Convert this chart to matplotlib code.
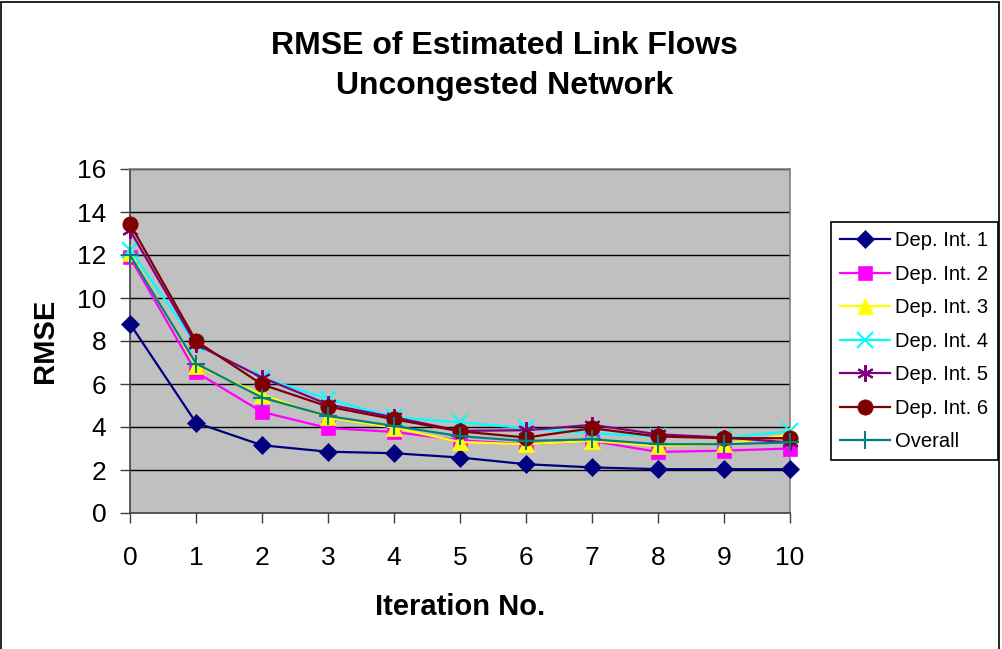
import numpy as np
import matplotlib.pyplot as plt
from matplotlib.patches import Rectangle

## Data
iterations = [0, 1, 2, 3, 4, 5, 6, 7, 8, 9, 10]
dep1 = [8.8, 4.2, 3.15, 2.85, 2.78, 2.58, 2.27, 2.12, 2.04, 2.04, 2.04]
dep2 = [11.9, 6.55, 4.7, 3.95, 3.77, 3.38, 3.2, 3.35, 2.84, 2.9, 3.0]
dep3 = [12.1, 6.85, 5.5, 4.45, 3.97, 3.3, 3.2, 3.35, 3.12, 3.2, 3.65]
dep4 = [12.25, 7.85, 6.3, 5.3, 4.45, 4.22, 3.94, 3.71, 3.56, 3.5, 3.8]
dep5 = [13.15, 7.85, 6.3, 5.05, 4.45, 3.82, 3.85, 4.1, 3.66, 3.51, 3.28]
dep6 = [13.45, 8.0, 5.98, 4.95, 4.36, 3.8, 3.51, 3.94, 3.56, 3.48, 3.48]
overall = [12.0, 6.95, 5.37, 4.51, 4.05, 3.57, 3.35, 3.43, 3.2, 3.2, 3.28]

series = [dep1, dep2, dep3, dep4, dep5, dep6, overall]
labels = ['Dep. Int. 1', 'Dep. Int. 2', 'Dep. Int. 3', 'Dep. Int. 4',
          'Dep. Int. 5', 'Dep. Int. 6', 'Overall']
colors = ['#000080', '#FF00FF', '#FFFF00', '#00FFFF', '#800080', '#800000', '#008080']
markers = ['D', 's', '^', 'x', (6, 2, 0), 'o', '+']
msizes = [9, 10, 11, 11, 12, 11, 13]

plt.rcParams['font.family'] = ['Liberation Sans', 'DejaVu Sans']

fig = plt.figure(figsize=(10.03, 6.49), dpi=100)
ax = fig.add_axes([130 / 1003, 1 - 513 / 649, 660 / 1003, 344 / 649])
ax.set_facecolor('#C0C0C0')

for yv in range(2, 17, 2):
    ax.axhline(yv, color='black', lw=1, zorder=1)

for vals, lab, col, mk, ms in zip(series, labels, colors, markers, msizes):
    ax.plot(iterations, vals, color=col, lw=1.6, marker=mk, markersize=ms,
            markeredgewidth=1.5 if mk in ('x', '+') or isinstance(mk, tuple) else 0.5,
            markeredgecolor=col, markerfacecolor=col, label=lab, zorder=3,
            clip_on=False)

ax.set_xlim(0, 10)
ax.set_ylim(0, 16)
ax.set_xticks(range(0, 11))
ax.set_yticks(range(0, 17, 2))
ax.tick_params(axis='both', labelsize=19, direction='out', length=7,
               color='#404040', width=1)
ax.tick_params(axis='x', pad=17)
ax.tick_params(axis='y', pad=10)

for side in ['top', 'right']:
    ax.spines[side].set_color('#808080')
for side in ['left', 'bottom']:
    ax.spines[side].set_color('#404040')
for sp in ax.spines.values():
    sp.set_linewidth(1.2)

fig.text(0.503, 1 - 46 / 649, 'RMSE of Estimated Link Flows', ha='center', va='center',
         fontsize=23, fontweight='bold')
fig.text(0.503, 1 - 86 / 649, 'Uncongested Network', ha='center', va='center',
         fontsize=23, fontweight='bold')
fig.text(45 / 1003, 1 - 341 / 649, 'RMSE', rotation=90, ha='center', va='center',
         fontsize=21, fontweight='bold')
fig.text(460 / 1003, 1 - 607 / 649, 'Iteration No.', ha='center', va='center',
         fontsize=21, fontweight='bold')

leg = fig.legend(loc='upper left', bbox_to_anchor=(831 / 1003, 1 - 222 / 649),
                 fontsize=14.5, frameon=True, fancybox=False, framealpha=1,
                 edgecolor='black', handlelength=2.5, handletextpad=0.25,
                 labelspacing=0.72, borderpad=0.45, borderaxespad=0)
leg.get_frame().set_linewidth(1.2)

# outer chart border
fig.patches.append(Rectangle((1 / 1003, -0.01), 998 / 1003, 1 - 2 / 649 + 0.01,
                             transform=fig.transFigure, fill=False,
                             edgecolor='black', lw=1.2))

fig.savefig('out.png', dpi=100, facecolor='white')
